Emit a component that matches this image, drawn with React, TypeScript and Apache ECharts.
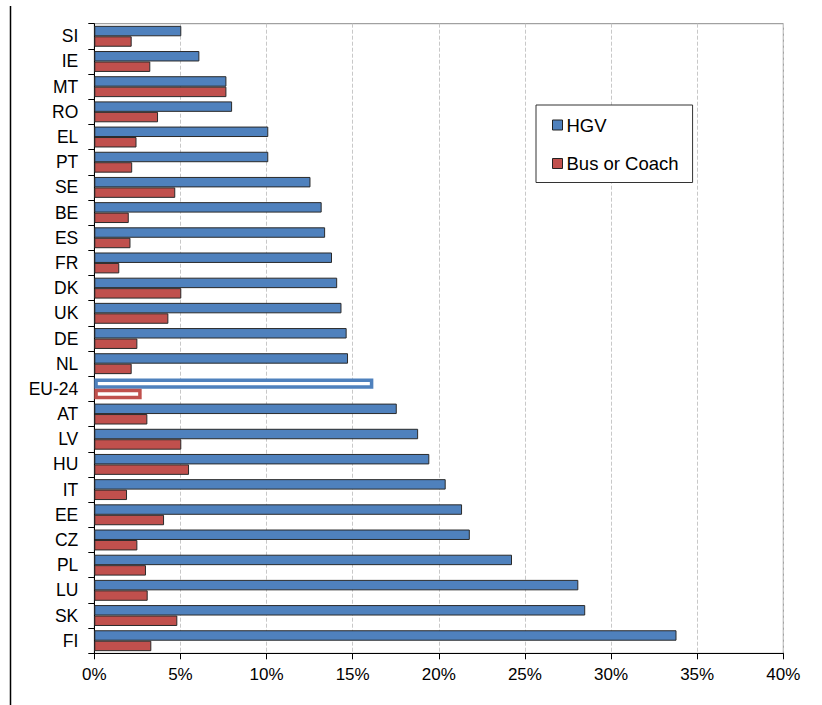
import React, { useEffect, useRef } from "react";
import * as echarts from "echarts";

const categories = [
  "SI", "IE", "MT", "RO", "EL", "PT", "SE", "BE", "ES", "FR", "DK", "UK", "DE",
  "NL", "EU-24", "AT", "LV", "HU", "IT", "EE", "CZ", "PL", "LU", "SK", "FI",
];
const hgvValues = [
  5.05, 6.1, 7.67, 8.0, 10.1, 10.1, 12.55, 13.2, 13.4, 13.8, 14.1, 14.35, 14.65,
  14.73, 16.2, 17.56, 18.8, 19.45, 20.4, 21.35, 21.8, 24.25, 28.1, 28.5, 33.8,
];
const busValues = [
  2.17, 3.25, 7.67, 3.7, 2.45, 2.2, 4.7, 2.0, 2.1, 1.45, 5.05, 4.3, 2.5,
  2.17, 2.75, 3.08, 5.05, 5.5, 1.9, 4.05, 2.5, 3.0, 3.1, 4.82, 3.31,
];
const xTicks = [0, 5, 10, 15, 20, 25, 30, 35, 40];
const highlightCategory = "EU-24";

const BLUE = "#4F81BD";
const RED = "#C0504D";
const FONT = "'Liberation Sans', Arial, sans-serif";

export default function App() {
  const ref = useRef<HTMLDivElement>(null);
  useEffect(() => {
    document.body.style.margin = "0";
    if (!ref.current) return;
    const chart = echarts.init(ref.current, undefined, { renderer: "svg" });
    const mk = (vals: number[], color: string) =>
      vals.map((v, i) =>
        categories[i] === highlightCategory
          ? { value: v, itemStyle: { color: "#ffffff", borderColor: color, borderWidth: 3.5 } }
          : { value: v }
      );
    chart.setOption({
      animation: false,
      textStyle: { fontFamily: FONT },
      grid: {
        left: 94.3,
        right: 822 - 783.3,
        top: 23.7,
        bottom: 705 - 653.3,
        show: true,
        borderColor: "#8c8c8c",
        borderWidth: 1,
        backgroundColor: "transparent",
      },
      legend: {
        orient: "vertical",
        left: 536,
        top: 105,
        icon: "rect",
        itemWidth: 10,
        itemHeight: 10,
        itemGap: 19.5,
        padding: [10.5, 14, 9.5, 16],
        borderColor: "#333",
        borderWidth: 1,
        backgroundColor: "#fff",
        textStyle: { fontSize: 18.5, color: "#000", fontFamily: FONT, padding: [0, 0, 0, -1] },
        data: [
          { name: "HGV", itemStyle: { borderColor: "#222", borderWidth: 1 } },
          { name: "Bus or Coach", itemStyle: { borderColor: "#222", borderWidth: 1 } },
        ],
      },
      xAxis: {
        type: "value",
        min: xTicks[0],
        max: xTicks[xTicks.length - 1],
        interval: 5,
        axisLine: { show: true, lineStyle: { color: "#000", width: 1 } },
        axisTick: { show: true, length: 6, lineStyle: { color: "#000" } },
        axisLabel: {
          formatter: (v: number) => `${v}%`,
          fontSize: 17,
          color: "#000",
          margin: 13,
          fontFamily: FONT,
        },
        splitLine: { show: true, lineStyle: { color: "#c8c8c8", type: [4, 2] } },
      },
      yAxis: {
        type: "category",
        data: categories,
        inverse: true,
        axisLine: { show: true, lineStyle: { color: "#000", width: 1 } },
        axisTick: { show: true, length: 6, lineStyle: { color: "#000" } },
        axisLabel: { fontSize: 17.5, color: "#000", margin: 16, fontFamily: FONT },
      },
      series: [
        {
          name: "HGV",
          type: "bar",
          data: mk(hgvValues, BLUE),
          barGap: "0%",
          barCategoryGap: "17%",
          itemStyle: { color: BLUE, borderColor: "#2a2a2a", borderWidth: 1 },
        },
        {
          name: "Bus or Coach",
          type: "bar",
          data: mk(busValues, RED),
          barGap: "0%",
          barCategoryGap: "17%",
          itemStyle: { color: RED, borderColor: "#2a2a2a", borderWidth: 1 },
        },
      ],
      graphic: [
        {
          type: "line",
          shape: { x1: 10.5, y1: 6, x2: 10.5, y2: 705 },
          style: { stroke: "#000", lineWidth: 1.5 },
        },
      ],
    });
    return () => chart.dispose();
  }, []);
  return <div ref={ref} style={{ width: 822, height: 705 }} />;
}
